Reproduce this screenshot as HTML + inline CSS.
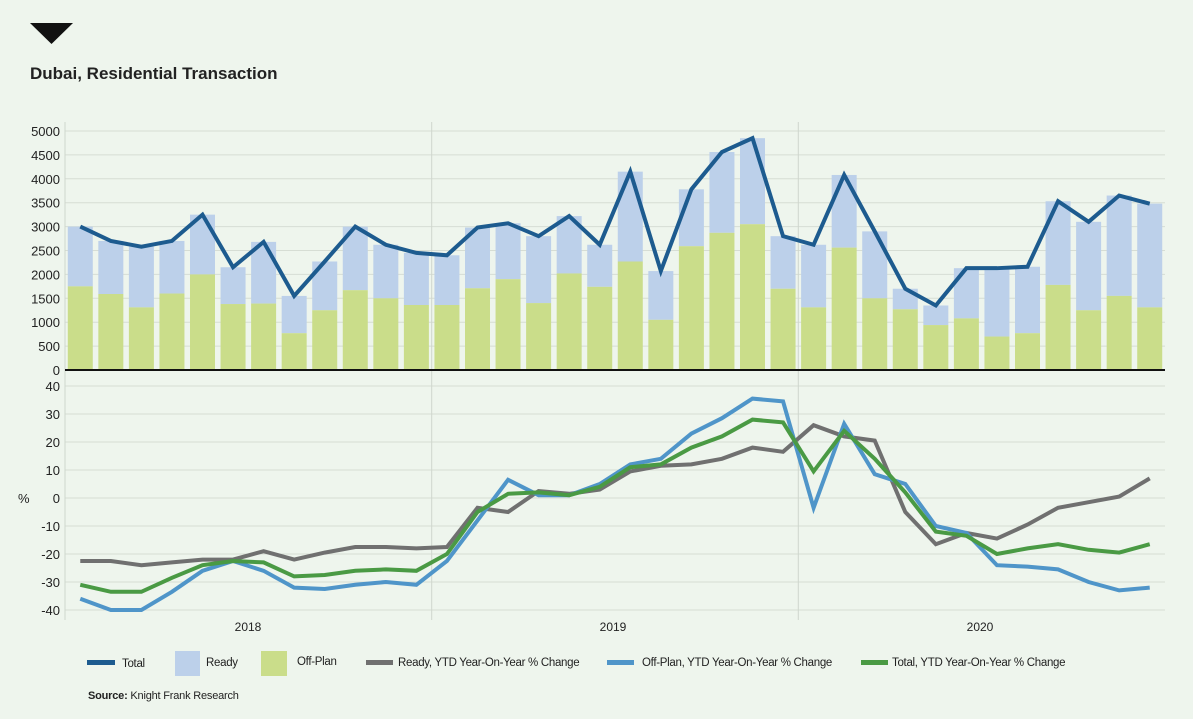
<!DOCTYPE html>
<html><head><meta charset="utf-8"><style>
html,body{margin:0;padding:0;background:#eef5ed;}
body{width:1193px;height:714px;overflow:hidden;font-family:"Liberation Sans",sans-serif;}
</style></head><body>
<svg id="s" width="1193" height="714" xmlns="http://www.w3.org/2000/svg" font-family="Liberation Sans, sans-serif">
<rect width="1193" height="714" fill="#eef5ed"/>
<polygon points="30,23 73,23 51.5,44" fill="#111"/>
<text x="30" y="79" font-size="17" font-weight="bold" fill="#222">Dubai, Residential Transaction</text>
</svg>
<script>
const s=document.getElementById('s');const NS='http://www.w3.org/2000/svg';
function el(t,a,txt){const e=document.createElementNS(NS,t);for(const k in a)e.setAttribute(k,a[k]);if(txt!=null)e.textContent=txt;s.appendChild(e);return e;}
const X0=65,X1=1165,W=(X1-X0)/36;const cx=i=>X0+W*(i+0.5);
const ty=v=>370-v*(239/5000);const py=v=>498-v*2.8;
for(let v=500;v<=5000;v+=500){el('line',{x1:X0,x2:X1,y1:ty(v),y2:ty(v),stroke:'#d6ddd4','stroke-width':1});}
for(let v=0;v<=5000;v+=500)el('text',{x:60,y:ty(v)+5,'font-size':13,'text-anchor':'end',fill:'#222'},v);
for(let v=-40;v<=40;v+=10){el('line',{x1:X0,x2:X1,y1:py(v),y2:py(v),stroke:'#d6ddd4','stroke-width':1});el('text',{x:60,y:py(v)+5,'font-size':13,'text-anchor':'end',fill:'#222'},v);}
el('text',{x:18,y:503,'font-size':13,fill:'#222'},'%');
el('line',{x1:X0,x2:X0,y1:122,y2:620,stroke:'#cfd6cd'});
[431.7,798.3].forEach(x=>el('line',{x1:x,x2:x,y1:122,y2:620,stroke:'#cfd6cd'}));
const tot=[3000,2700,2580,2700,3250,2150,2680,1550,2270,3000,2620,2450,2400,2980,3070,2800,3220,2620,4150,2070,3780,4560,4850,2800,2620,4080,2900,1700,1350,2130,2130,2160,3530,3100,3650,3480];
const off=[1750,1590,1310,1600,2000,1380,1390,770,1250,1670,1500,1360,1360,1710,1900,1400,2020,1740,2270,1050,2590,2870,3050,1700,1310,2560,1500,1270,940,1080,700,770,1780,1250,1550,1310];
const bw=25;
for(let i=0;i<36;i++){const x=cx(i)-bw/2;
el('rect',{x:x,y:ty(tot[i]),width:bw,height:ty(off[i])-ty(tot[i]),fill:'#bcd0ea'});
el('rect',{x:x,y:ty(off[i]),width:bw,height:370-ty(off[i]),fill:'#cadd8a'});}
const pl=(d,f,c,w)=>el('polyline',{points:d.map((v,i)=>cx(i)+','+f(v)).join(' '),fill:'none',stroke:c,'stroke-width':w,'stroke-linejoin':'miter'});
pl(tot,ty,'#1d5b8f',4);
el('line',{x1:X0,x2:X1,y1:370,y2:370,stroke:'#111','stroke-width':2});
const gr=[-22.5,-22.5,-24,-23,-22,-22,-19,-22,-19.5,-17.5,-17.5,-18,-17.5,-3.5,-5,2.5,1.5,3,9.5,11.5,12,14,18,16.5,26,22,20.5,-5,-16.5,-12.5,-14.5,-9.5,-3.5,-1.5,0.5,7];
const bl=[-36,-40,-40,-33.5,-26,-22.5,-26,-32,-32.5,-31,-30,-31,-22.5,-8,6.5,1,1,5,12,14,23,28.5,35.5,34.5,-3.5,26.5,8.5,5,-10,-12.5,-24,-24.5,-25.5,-30,-33,-32];
const gn=[-31,-33.5,-33.5,-28.5,-24,-22.5,-23,-28,-27.5,-26,-25.5,-26,-20,-5,1.5,2,1,4,11,12,18,22,28,27,9.5,24,14,2,-12,-13.5,-20,-18,-16.5,-18.5,-19.5,-16.5];
pl(gr,py,'#707070',4);pl(bl,py,'#4f95c9',4);pl(gn,py,'#4a9a44',4);
[['2018',248],['2019',613],['2020',980]].forEach(a=>el('text',{x:a[1],y:631,'font-size':12,'text-anchor':'middle',fill:'#222'},a[0]));
const L={'font-size':11.5,fill:'#222','letter-spacing':'-0.3'};
const lt=(x,y,t)=>el('text',Object.assign({x:x,y:y},L),t);
el('rect',{x:87,y:660,width:28,height:5,fill:'#1d5b8f'});lt(122,667,'Total');
el('rect',{x:175,y:651,width:25,height:25,fill:'#bcd0ea'});lt(206,666,'Ready');
el('rect',{x:261,y:651,width:26,height:25,fill:'#cadd8a'});lt(297,665,'Off-Plan');
el('rect',{x:366,y:660,width:27,height:5,fill:'#707070'});lt(398,666,'Ready, YTD Year-On-Year % Change');
el('rect',{x:607,y:660,width:27,height:5,fill:'#4f95c9'});lt(642,666,'Off-Plan, YTD Year-On-Year % Change');
el('rect',{x:861,y:660,width:27,height:5,fill:'#4a9a44'});lt(892,666,'Total, YTD Year-On-Year % Change');
const t=el('text',{x:88,y:699,'font-size':11,fill:'#222','letter-spacing':'-0.2'});t.innerHTML='<tspan font-weight="bold">Source:</tspan> Knight Frank Research';
</script>
</body></html>
